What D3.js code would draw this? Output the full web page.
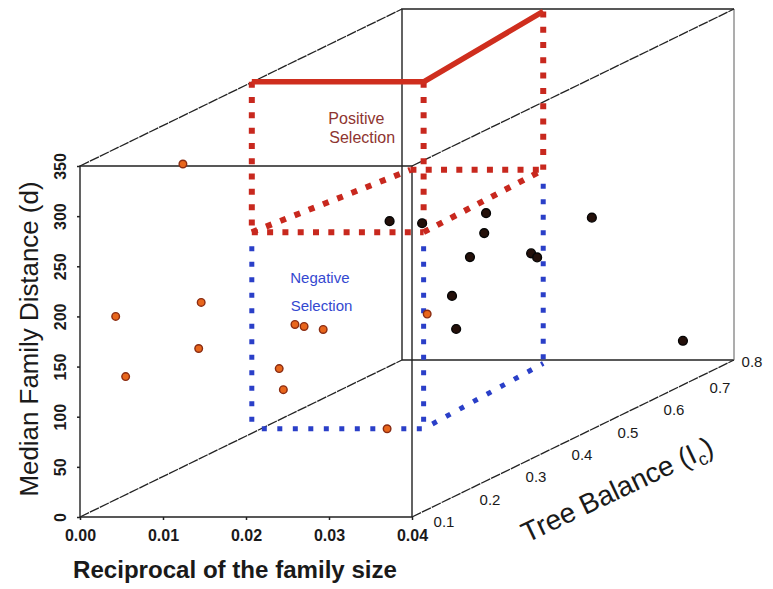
<!DOCTYPE html>
<html>
<head>
<meta http-equiv="Content-Type" content="text/html;charset=utf-8">
<title>Selection cube</title>
<script src="https://d3js.org/d3.v7.min.js"></script>
<style>
	html,body{
		margin:0;
		padding:0;
		background:#fff;
	}
	text{
		font-family:"Liberation Sans", Arial, sans-serif;
	}
	.edge{
		fill:none;
		stroke:#222;
		stroke-width:1.4px;
	}
	.diag{
		fill:none;
		stroke:#222;
		stroke-width:1.3px;
		stroke-dasharray:10,1;
	}
	.axis .domain{ display:none; }
	.axis line{ stroke:#222; stroke-width:1.5px; }
	.axis text{ font-size:16px; font-weight:bold; fill:#1a1a1a; }
</style>
</head>
<body>
<script type="text/javascript">

	// tick values
	let xTicks = [0, 0.01, 0.02, 0.03, 0.04];
	let dTicks = [0, 50, 100, 150, 200, 250, 300, 350];
	let zTicks = [0.1, 0.2, 0.3, 0.4, 0.5, 0.6, 0.7, 0.8];

	// points: [reciprocal of family size, median distance d, tree balance Ic]
	let orangePts = [
		[0.0124, 352, 0.1], [0.0043, 200, 0.1], [0.0146, 214, 0.1], [0.0055, 140, 0.1],
		[0.0143, 168, 0.1], [0.0259, 192, 0.1], [0.0270, 190, 0.1], [0.0293, 187, 0.1],
		[0.0240, 148, 0.1], [0.0245, 127, 0.1], [0.0370, 88, 0.1], [0.04, 195, 0.133]
	];
	let darkPts = [
		[0.0373, 295, 0.1], [0.04, 288, 0.122], [0.04, 267, 0.261], [0.04, 248, 0.257],
		[0.04, 231, 0.226], [0.04, 205, 0.359], [0.04, 198, 0.372], [0.04, 211, 0.491],
		[0.04, 201, 0.187], [0.04, 166, 0.196], [0.04, 44, 0.689]
	];

	// selection region outline (same three coordinates)
	let posEdge = [[0.0207, 434, 0.1], [0.0414, 434, 0.1], [0.0414, 446, 0.36]];
	let posDots = [
		[[0.0207, 434, 0.1], [0.0207, 284, 0.1]],
		[[0.0414, 434, 0.1], [0.0414, 284, 0.1]],
		[[0.0414, 446, 0.36], [0.0414, 288, 0.36]],
		[[0.0207, 284, 0.1], [0.0414, 284, 0.1]],
		[[0.0207, 284, 0.1], [0.0254, 288, 0.36]],
		[[0.0254, 288, 0.36], [0.0414, 288, 0.36]],
		[[0.0414, 284, 0.1], [0.0414, 288, 0.36]]
	];
	let negDots = [
		[[0.0207, 280, 0.1], [0.0207, 88, 0.1]],
		[[0.0414, 280, 0.1], [0.0414, 88, 0.1]],
		[[0.0414, 284, 0.36], [0.0414, 95, 0.36]],
		[[0.0207, 88, 0.1], [0.0414, 88, 0.1]],
		[[0.0414, 88, 0.1], [0.0414, 95, 0.36]]
	];

	let svg = d3.select("body").append("svg")
		.attr("width", 773)
		.attr("height", 589);

	let x = d3.scaleLinear().domain([0, 0.04]).range([80, 412]);
	let y = d3.scaleLinear().domain([0, 350]).range([517, 166]);
	// depth goes up and to the right
	let zx = d3.scaleLinear().domain([0.1, 0.8]).range([0, 322]);
	let zy = d3.scaleLinear().domain([0.1, 0.8]).range([0, -157]);

	function px(p){ return x(p[0]) + zx(p[2]); }
	function py(p){ return y(p[1]) + zy(p[2]); }
	let line = d3.line().x(px).y(py);

	let X0 = x.domain()[0], X1 = x.domain()[1];
	let D0 = y.domain()[0], D1 = y.domain()[1];
	let Z0 = zx.domain()[0], Z1 = zx.domain()[1];

	// box
	let front = [[X0,D0,Z0],[X1,D0,Z0],[X1,D1,Z0],[X0,D1,Z0],[X0,D0,Z0]];
	svg.append("path").attr("class","edge").attr("d", line(front));
	svg.append("path").attr("class","edge").attr("d", line([[X0,D0,Z1],[X0,D1,Z1],[X1,D1,Z1]]));
	svg.append("path").attr("class","edge").attr("d", line([[X0,D0,Z1],[X1,D0,Z1]]));
	svg.append("path").attr("class","edge").style("stroke","#8a8a8a")
		.attr("d", line([[X1,D0,Z1],[X1,D1,Z1]]));
	[[X0,D0],[X1,D0],[X0,D1],[X1,D1]].forEach(function(c){
		svg.append("path").attr("class","diag")
			.attr("d", line([[c[0],c[1],Z0],[c[0],c[1],Z1]]));
	});

	// axes
	let xa = svg.append("g").attr("class","axis")
		.attr("transform","translate(0," + y(0) + ")")
		.call(d3.axisBottom(x).tickValues(xTicks).tickFormat(d3.format(".2f")).tickSize(3).tickPadding(10));

	let ya = svg.append("g").attr("class","axis")
		.attr("transform","translate(" + x(0) + ",0)")
		.call(d3.axisLeft(y).tickValues(dTicks).tickSize(3));
	ya.selectAll("text")
		.attr("x", 0).attr("dy", "0.35em")
		.attr("text-anchor","middle")
		.attr("transform","translate(-20,0) rotate(-90)");

	svg.selectAll(".ztick").data(zTicks).enter().append("text")
		.attr("class","ztick")
		.attr("x", function(d, i){ return px([X1, 0, d]) + (i == zTicks.length-1 ? 18 : 32); })
		.attr("y", function(d, i){ return py([X1, 0, d]) + (i == zTicks.length-1 ? 2 : 5); })
		.attr("dy","0.35em")
		.attr("text-anchor","middle")
		.style("font-size","15px")
		.style("fill","#1a1a1a")
		.text(function(d){ return d3.format(".1f")(d); });

	// selection outline
	posDots.forEach(function(s){
		svg.append("path").attr("d", line(s))
			.style("fill","none").style("stroke","#c8281e")
			.style("stroke-width","6px").style("stroke-dasharray","6,9.3");
	});
	negDots.forEach(function(s){
		svg.append("path").attr("d", line(s))
			.style("fill","none").style("stroke","#2a3fc8")
			.style("stroke-width","5px").style("stroke-dasharray","5,10.5")
			.style("stroke-dashoffset","-10");
	});
	svg.append("path").attr("d", line(posEdge))
		.style("fill","none").style("stroke","#cf2e1e")
		.style("stroke-width","5.5px").style("stroke-linejoin","round");

	// points
	svg.selectAll(".opt").data(orangePts).enter().append("circle")
		.attr("class","opt")
		.attr("cx", px).attr("cy", py).attr("r", 3.8)
		.style("fill","#e8661c").style("stroke","#8a2c12").style("stroke-width","1.4px");
	svg.selectAll(".dpt").data(darkPts).enter().append("circle")
		.attr("class","dpt")
		.attr("cx", px).attr("cy", py).attr("r", 4.4)
		.style("fill","#24100a").style("stroke","#050505").style("stroke-width","1.4px");

	// labels
	let pl = svg.append("text").attr("text-anchor","middle")
		.style("font-size","16px").style("fill","#8e3530");
	pl.append("tspan").attr("x", x(0.0333)).attr("y", y(392)).text("Positive");
	pl.append("tspan").attr("x", x(0.0340)).attr("y", y(373)).text("Selection");

	let nl = svg.append("text").attr("text-anchor","middle")
		.style("font-size","15px").style("fill","#3448d0");
	nl.append("tspan").attr("x", x(0.0289)).attr("y", y(233)).text("Negative");
	nl.append("tspan").attr("x", x(0.0291)).attr("y", y(205)).text("Selection");

	// axis titles
	svg.append("text")
		.attr("x", 235).attr("y", 578)
		.attr("text-anchor","middle")
		.attr("textLength", 324).attr("lengthAdjust","spacingAndGlyphs")
		.style("font-size","23px").style("font-weight","bold").style("fill","#1a1a1a")
		.text("Reciprocal of the family size");

	svg.append("text")
		.attr("transform","translate(38,339) rotate(-90)")
		.attr("text-anchor","middle")
		.attr("textLength", 315).attr("lengthAdjust","spacingAndGlyphs")
		.style("font-size","25px").style("fill","#1a1a1a")
		.text("Median Family Distance (d)");

	let tb = svg.append("text")
		.attr("transform","translate(527,543) rotate(-25.5)")
		.style("font-size","28px").style("fill","#1a1a1a");
	tb.append("tspan").text("Tree Balance (I");
	tb.append("tspan").attr("dy","6").style("font-size","18px").text("c");
	tb.append("tspan").attr("dy","-6").text(")");

</script>
</body>
</html>
